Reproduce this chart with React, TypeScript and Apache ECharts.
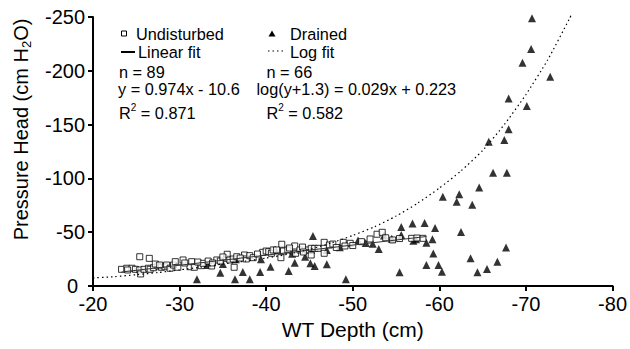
import React, { useEffect, useRef } from "react";
import * as echarts from "echarts";

const FONT = '"Liberation Sans", Arial, Helvetica, sans-serif';

// Undisturbed (open squares)
const undisturbedDepth = [
  -23.3, -23.9, -24.5, -24.9, -25.4, -25.5, -25.9, -26.4, -26.6, -25.4,
  -26.5, -27.0, -27.5, -27.9, -28.3, -28.5, -28.9, -29.3, -29.5, -29.8,
  -30.4, -31.2, -31.4, -31.7, -32.5, -32.7, -33.7, -34.3, -34.7, -35.4,
  -35.5, -35.8, -36.2, -36.3, -36.6, -37.5, -37.7, -38.1, -38.5, -39.6,
  -40.0, -40.3, -40.6, -40.8, -41.8, -42.0, -41.7, -42.5, -43.3, -43.4,
  -43.9, -44.8, -45.2, -45.2, -45.6, -46.0, -46.7, -46.7, -47.3, -47.7,
  -48.1, -48.9, -49.7, -50.0, -51.0, -52.8, -53.4, -53.8, -54.6, -56.8,
  -58.1, -27.2, -30.6, -32.1, -33.3, -33.8, -37.0, -39.0, -41.2, -42.7,
  -44.2, -49.1, -52.0, -55.4, -57.4, -24.0, -27.7, -35.0, -44.3,
];
const undisturbedHead = [
  -15.5, -16.5, -16.5, -15.5, -14.9, -11.2, -15.5, -16.5, -15.5, -27.2,
  -25.7, -17.0, -18.6, -17.4, -17.9, -19.5, -16.5, -19.5, -22.6, -17.4,
  -24.2, -17.9, -22.6, -17.4, -18.9, -21.1, -18.6, -24.2, -23.2, -25.7,
  -29.5, -24.2, -25.1, -17.4, -27.2, -28.8, -25.1, -28.2, -26.3, -31.3,
  -32.5, -31.9, -30.4, -33.5, -38.8, -32.5, -26.3, -33.5, -37.2, -30.4,
  -33.5, -33.5, -35.0, -28.8, -35.0, -35.0, -40.6, -30.4, -38.1, -39.0,
  -35.8, -40.6, -39.7, -37.6, -41.2, -48.1, -49.9, -44.8, -42.8, -44.3,
  -44.3, -20.4, -21.4, -22.3, -23.2, -21.4, -26.0, -29.7, -33.5, -35.3,
  -36.2, -37.2, -43.7, -44.1, -44.6, -14.9, -19.5, -27.0, -31.6,
];

// Drained (filled triangles)
const drainedDepth = [
  -32.0, -33.2, -34.7, -35.0, -36.4, -37.3, -38.1, -39.3, -39.4, -41.1,
  -42.6, -43.3, -44.5, -45.2, -45.1, -45.6, -45.4, -47.0, -47.0, -49.2,
  -50.6, -52.3, -53.0, -53.6, -55.4, -55.6, -55.6, -56.9, -57.3, -58.3,
  -58.5, -59.2, -59.3, -59.5, -58.5, -59.9, -60.3, -60.4, -62.3, -62.0,
  -62.5, -63.8, -63.6, -64.4, -64.6, -65.5, -65.7, -66.2, -66.7, -67.5,
  -67.7, -67.8, -68.0, -68.0, -69.6, -70.1, -70.6, -70.7, -72.8, -36.5,
  -40.5, -43.0, -48.5, -51.5, -54.5, -57.0,
];
const drainedHead = [
  -6.2, -19.5, -12.4, -20.4, -6.2, -13.0, -6.2, -13.0, -24.8, -33.5,
  -13.9, -21.7, -27.2, -33.5, -21.1, -18.6, -46.5, -20.2, -33.5, -6.2,
  -42.3, -39.3, -34.4, -46.9, -12.7, -54.8, -47.4, -58.1, -43.4, -58.6,
  -40.2, -43.4, -30.2, -53.9, -19.5, -19.5, -13.3, -83.0, -85.3, -78.3,
  -50.2, -75.6, -25.7, -12.7, -91.5, -15.8, -134.1, -105.3, -22.6, -135.7,
  -35.8, -105.3, -174.3, -145.6, -207.5, -167.3, -220.3, -248.8, -194.5, -24.8,
  -18.0, -30.0, -36.0, -40.0, -44.0, -42.0,
];

// Fit lines
const linearFitDepth = [-23.3, -58.5];
const linearFitHead = [-13.0, -46.0];

const logFitDepth = [
  -20, -22.5, -25, -27.5, -30, -32.5, -35, -37.5, -40, -42.5, -45, -47.5,
  -50, -52.5, -55, -57.5, -60, -62.5, -65, -67.5, -70, -72.5, -75, -75.3,
];
const logFitHead = [
  -7.5, -8.7, -10.5, -12.5, -15, -17.5, -20.5, -23, -26, -29.5, -34, -40,
  -47, -55, -65, -77, -91, -107, -126, -150, -178, -210, -248, -253,
];

const xTicks = { min: -80, max: -20, interval: 10 };
const yTicks = { min: -250, max: 0, interval: 50 };

const zip = (a: number[], b: number[]) => a.map((v, i) => [v, b[i]]);

const legendTexts = [
  { text: "Undisturbed", x: 136, y: 33.5 },
  { text: "Drained", x: 290, y: 34 },
  { text: "Linear fit", x: 138, y: 52 },
  { text: "Log fit", x: 290, y: 52 },
  { text: "n = 89", x: 119, y: 71.5 },
  { text: "n = 66", x: 266.5, y: 71.5 },
  { text: "y = 0.974x - 10.6", x: 118, y: 88.5 },
  { text: "log(y+1.3) = 0.029x + 0.223", x: 256.5, y: 88.5 },
  { text: "R{sup|2} = 0.871", x: 119, y: 112.5 },
  { text: "R{sup|2} = 0.582", x: 266.5, y: 112.5 },
];

export default function App() {
  const ref = useRef<HTMLDivElement>(null);
  useEffect(() => {
    if (!ref.current) return;
    const chart = echarts.init(ref.current, null, { renderer: "svg" });
    const axisLine = { onZero: false, lineStyle: { color: "#000", width: 2 } };
    const axisTick = { show: true, length: 5, lineStyle: { color: "#000", width: 2 } };
    const option: any = {
      animation: false,
      backgroundColor: "#fff",
      grid: { left: 93, right: 17, top: 17, bottom: 63 },
      xAxis: {
        type: "value",
        ...xTicks,
        inverse: true,
        axisLine,
        axisTick,
        splitLine: { show: false },
        axisLabel: { color: "#000", fontSize: 20, fontFamily: FONT, margin: 10, lineHeight: 16 },
        name: "WT Depth (cm)",
        nameLocation: "middle",
        nameGap: 28,
        nameTextStyle: { color: "#000", fontSize: 21, fontFamily: FONT },
      },
      yAxis: {
        type: "value",
        ...yTicks,
        inverse: true,
        axisLine,
        axisTick,
        splitLine: { show: false },
        axisLabel: {
          color: "#000",
          fontSize: 20,
          fontFamily: FONT,
          margin: 8,
          lineHeight: 15,
          formatter: (v: number) => (v === 0 ? "{z|0}" : String(v)),
          rich: {
            z: { fontSize: 20, fontFamily: FONT, color: "#000", padding: [0, 7, 0, 0] },
          },
        },
        name: "Pressure Head (cm H{sub|2}O)",
        nameLocation: "middle",
        nameRotate: 90,
        nameGap: 60,
        nameTextStyle: {
          color: "#000",
          fontSize: 20,
          fontFamily: FONT,
          lineHeight: 25,
          padding: [0, 0, 0, 44],
          rich: {
            sub: { fontSize: 13, lineHeight: 13, verticalAlign: "bottom", color: "#000", fontFamily: FONT },
          },
        },
      },
      series: [
        {
          type: "scatter",
          name: "Drained",
          symbol: "triangle",
          symbolSize: 8,
          itemStyle: { color: "#000" },
          data: zip(drainedDepth, drainedHead),
        },
        {
          type: "scatter",
          name: "Undisturbed",
          symbol: "rect",
          symbolSize: 6,
          itemStyle: { color: "#fff", borderColor: "#000", borderWidth: 1 },
          data: zip(undisturbedDepth, undisturbedHead),
        },
        {
          type: "line",
          name: "Linear fit",
          symbol: "none",
          lineStyle: { color: "#333", width: 1 },
          data: zip(linearFitDepth, linearFitHead),
        },
        {
          type: "line",
          name: "Log fit",
          symbol: "none",
          clip: false,
          smooth: 0.2,
          lineStyle: { color: "#000", width: 1.2, type: [1.5, 3] },
          data: zip(logFitDepth, logFitHead),
        },
      ],
      graphic: [
        {
          type: "rect",
          shape: { x: 121.5, y: 31, width: 5, height: 5 },
          style: { fill: "#fff", stroke: "#000", lineWidth: 1 },
        },
        {
          type: "polygon",
          shape: { points: [[272, 30.5], [275.5, 36.5], [268.5, 36.5]] },
          style: { fill: "#000" },
        },
        {
          type: "line",
          shape: { x1: 121, y1: 52, x2: 135, y2: 52 },
          style: { stroke: "#000", lineWidth: 2 },
        },
        {
          type: "line",
          shape: { x1: 268, y1: 51, x2: 283, y2: 51 },
          style: { stroke: "#000", lineWidth: 1.2, lineDash: [1.5, 3] },
        },
        ...legendTexts.map((t) => ({
          type: "text",
          x: t.x,
          y: t.y,
          style: {
            text: t.text,
            fill: "#000",
            fontSize: 16.3,
            fontFamily: FONT,
            verticalAlign: "middle",
            align: "left",
            lineHeight: 20,
            rich: {
              sup: { fontSize: 10, lineHeight: 10, verticalAlign: "top", fill: "#000", fontFamily: FONT },
            },
          },
        })),
      ],
    };
    chart.setOption(option);
    return () => chart.dispose();
  }, []);
  return (
    <div
      ref={ref}
      style={{ position: "absolute", left: 0, top: 0, width: 630, height: 349, background: "#fff" }}
    />
  );
}
